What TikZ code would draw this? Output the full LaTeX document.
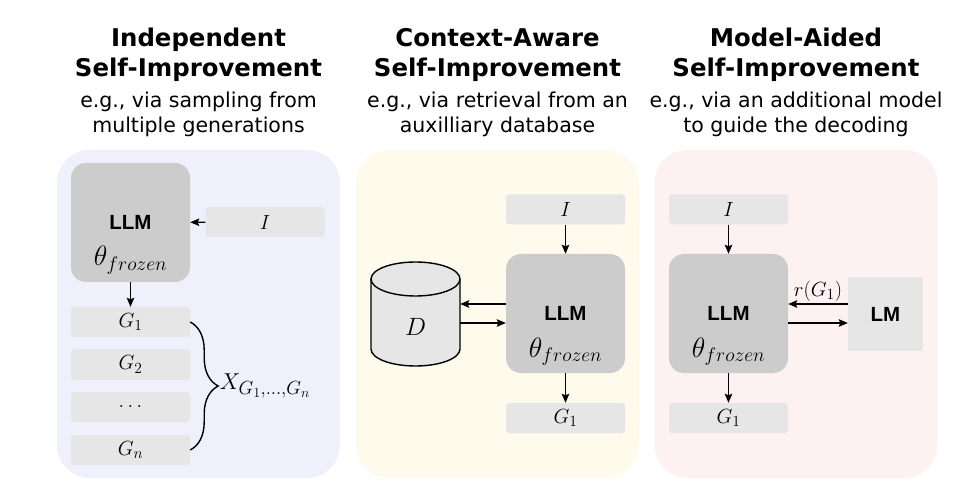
\RequirePackage{fix-cm}
\documentclass[tikz,border=0pt]{standalone}
\usepackage{amsmath}
\usepackage{fontspec}
\usepackage{tikz}
\usetikzlibrary{arrows.meta,decorations.pathreplacing}

\newfontfamily\headfont{DejaVu Sans}
\newfontfamily\boxfont{Liberation Sans}
\DeclareMathSizes{20.5}{20.5}{15.5}{11}
\DeclareMathSizes{23}{23}{19}{14}

\definecolor{bluebg}{HTML}{F0F0FC}
\definecolor{yellowbg}{HTML}{FEFBEC}
\definecolor{redbg}{HTML}{FDF1F1}
\definecolor{llmgray}{HTML}{CCCCCC}
\definecolor{boxgray}{HTML}{E6E6E6}

\begin{document}
\begin{tikzpicture}[x=1pt,y=-1pt,
  panel/.style={rounded corners=33pt,minimum width=283pt,minimum height=328pt,inner sep=0pt},
  llmbox/.style={fill=llmgray,rounded corners=15pt,minimum width=119pt,minimum height=119pt,inner sep=0pt},
  txtbox/.style={fill=boxgray,rounded corners=3pt,minimum width=119pt,minimum height=30pt,inner sep=0pt,font=\fontsize{20.5}{22}\selectfont},
  title/.style={align=center,font=\headfont\bfseries\fontsize{24.4}{30}\selectfont},
  subtitle/.style={align=center,font=\headfont\fontsize{20.5}{25}\selectfont},
  llmname/.style={anchor=base,inner sep=0pt,font=\boxfont\bfseries\fontsize{20.5}{24}\selectfont},
  theta/.style={anchor=base,inner sep=0pt,font=\fontsize{28}{32}\selectfont},
  flow/.style={->,>={Stealth[length=9pt,width=7.5pt,inset=1.5pt]},line width=1.4pt},
]
\useasboundingbox (0,0) rectangle (966,502);

% panels
\node[panel,fill=bluebg] (p1) at (198.5,314) {};
\node[panel,fill=yellowbg] (p2) at (497.5,314) {};
\node[panel,fill=redbg] (p3) at (796,314) {};

% headings
\node[title] (t1) at (198.5,54.5) {Independent\\Self-Improvement};
\node[subtitle] (s1) at (198.5,114.5) {e.g., via sampling from\\multiple generations};
\node[title] (t2) at (497.5,54.5) {Context-Aware\\Self-Improvement};
\node[subtitle] (s2) at (497.5,114.5) {e.g., via retrieval from an\\auxilliary database};
\node[title] (t3) at (796,54.5) {Model-Aided\\Self-Improvement};
\node[subtitle] (s3) at (796,114.5) {e.g., via an additional model\\to guide the decoding};

% independent
\node[llmbox] (llm1) at (130.5,222.5) {};
\node[llmname] (n1) at (130.5,230) {LLM};
\node[theta] (th1) at (130.5,266) {$\theta_{frozen}$};
\node[txtbox] (in1) at (265,222) {$I$};
\node[txtbox] (g1) at (130.5,322) {$G_1$};
\node[txtbox] (g2) at (130.5,364.5) {$G_2$};
\node[txtbox] (g3) at (130.5,407) {$\ldots$};
\node[txtbox] (gn) at (130.5,450) {$G_n$};

\draw[flow] (in1) -- (llm1);
\draw[flow] (llm1) -- (g1);
\draw[line width=1.4pt,decorate,decoration={brace,amplitude=28pt}] (g1.east) -- (gn.east)
  node[midway,xshift=28pt,anchor=west,inner sep=1pt,font=\fontsize{23}{26}\selectfont] (xset) {$X_{G_1,\ldots,G_n}$};

% context-aware
\node[llmbox] (llm2) at (565.5,313.5) {};
\node[llmname] (n2) at (565.5,321) {LLM};
\node[theta] (th2) at (565.5,357) {$\theta_{frozen}$};
\node[txtbox] (in2) at (565.5,209.5) {$I$};
\node[txtbox] (out2) at (565.5,418) {$G_1$};
\draw[fill=boxgray,line width=1.4pt] (371,279) -- (371,349) arc[start angle=180,end angle=360,x radius=44.5pt,y radius=17pt]
  -- (460,279) arc[start angle=0,end angle=180,x radius=44.5pt,y radius=17pt] -- cycle;
\draw[line width=1.4pt] (371,279) arc[start angle=180,end angle=360,x radius=44.5pt,y radius=17pt];
\node[minimum width=89pt,minimum height=78pt,inner sep=0pt,font=\fontsize{25}{28}\selectfont] (db) at (415.5,327) {$D$};

\draw[flow] (in2) -- (llm2);
\draw[flow] (llm2) -- (out2);
\draw[flow] ([yshift=9.5pt]llm2.west) -- ([yshift=9.5pt]llm2.west -| db.east);
\draw[flow] ([yshift=-9.5pt]llm2.west -| db.east) -- ([yshift=-9.5pt]llm2.west);

% model-aided
\node[llmbox] (llm3) at (728.5,313.5) {};
\node[llmname] (n3) at (728.5,321) {LLM};
\node[theta] (th3) at (728.5,357) {$\theta_{frozen}$};
\node[txtbox] (in3) at (728.5,209.5) {$I$};
\node[txtbox] (out3) at (728.5,418) {$G_1$};
\node[fill=boxgray,minimum width=75pt,minimum height=74pt,inner sep=0pt,font=\boxfont\bfseries\fontsize{20.5}{24}\selectfont] (lm) at (885.5,314) {LM};

\draw[flow] (in3) -- (llm3);
\draw[flow] (llm3) -- (out3);
\draw[flow] ([yshift=9.5pt]llm3.east -| lm.west) -- node[above,inner sep=2pt,font=\fontsize{20.5}{24}\selectfont] (rg) {$r(G_1)$} ([yshift=9.5pt]llm3.east);
\draw[flow] ([yshift=-9.5pt]llm3.east) -- ([yshift=-9.5pt]llm3.east -| lm.west);
\end{tikzpicture}
\end{document}
